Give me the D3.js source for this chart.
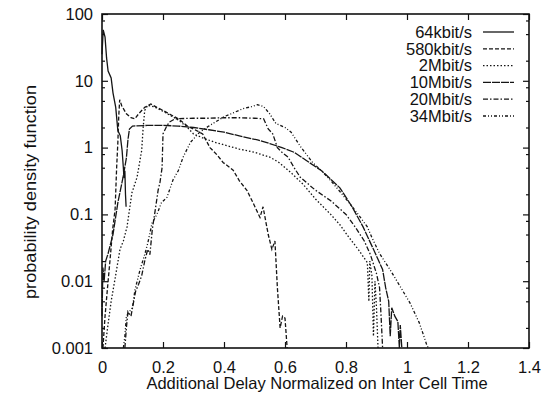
<!DOCTYPE html>
<html>
<head>
<meta charset="utf-8">
<script src="https://cdn.jsdelivr.net/npm/d3@7"></script>
<style>
  body { margin: 0; background: #fff; }
  text { font-family: "Liberation Sans", Arial, sans-serif; fill: #111; }
</style>
</head>
<body>
<svg width="554" height="393"></svg>
<script>
// ---- data ----
var seriesNames = ["64kbit/s", "580kbit/s", "2Mbit/s", "10Mbit/s", "20Mbit/s", "34Mbit/s"];

var s64k = [[0.0,25],[0.004,58],[0.01,45],[0.015,22],[0.02,14],[0.03,11],[0.036,6.6],[0.045,4],[0.052,1.8],[0.06,1.5],[0.066,0.9],[0.07,0.5],[0.072,0.35],[0.075,0.45],[0.077,0.2],[0.079,0.13]];

var s580k = [[0.003,0.001],[0.01,0.003],[0.02,0.01],[0.026,0.02],[0.035,0.06],[0.043,0.12],[0.048,0.5],[0.052,1.2],[0.055,3],[0.058,5.2],[0.065,4.2],[0.08,3.2],[0.095,2.8],[0.108,2.7],[0.12,3.2],[0.14,4.0],[0.16,4.5],[0.18,4.0],[0.2,3.6],[0.22,3.2],[0.25,2.7],[0.28,2.1],[0.31,1.8],[0.33,1.6],[0.354,1.0],[0.377,0.78],[0.397,0.6],[0.43,0.46],[0.45,0.32],[0.475,0.23],[0.495,0.15],[0.518,0.09],[0.528,0.13],[0.545,0.05],[0.557,0.03],[0.567,0.04],[0.575,0.008],[0.584,0.002],[0.592,0.003],[0.6,0.0028],[0.607,0.001]];

var s2M = [[0.01,0.001],[0.02,0.0023],[0.03,0.005],[0.043,0.011],[0.059,0.03],[0.07,0.04],[0.082,0.065],[0.098,0.21],[0.115,0.36],[0.13,0.9],[0.135,2],[0.14,3.6],[0.15,4.3],[0.17,4.1],[0.2,3.5],[0.22,3.1],[0.25,2.6],[0.28,2.0],[0.3,1.6],[0.33,1.4],[0.37,1.2],[0.4,1.1],[0.45,0.95],[0.5,0.85],[0.55,0.72],[0.58,0.6],[0.62,0.42],[0.66,0.28],[0.7,0.17],[0.75,0.1],[0.78,0.07],[0.81,0.045],[0.84,0.03],[0.87,0.019],[0.875,0.005],[0.878,0.02],[0.885,0.012],[0.89,0.0015],[0.895,0.01],[0.9,0.004],[0.905,0.001]];

var s10M = [[0.0,0.003],[0.003,0.016],[0.007,0.01],[0.012,0.02],[0.02,0.026],[0.036,0.05],[0.052,0.15],[0.069,0.36],[0.08,0.7],[0.085,1.3],[0.09,1.9],[0.1,2.1],[0.15,2.15],[0.2,2.15],[0.25,2.1],[0.3,2.0],[0.35,1.85],[0.4,1.7],[0.45,1.5],[0.51,1.3],[0.55,1.15],[0.59,1.0],[0.63,0.85],[0.67,0.64],[0.72,0.45],[0.78,0.25],[0.82,0.13],[0.856,0.065],[0.89,0.03],[0.92,0.015],[0.93,0.008],[0.94,0.005],[0.945,0.0015],[0.95,0.004],[0.96,0.003],[0.97,0.0025],[0.975,0.001],[0.978,0.0022],[0.983,0.001]];

var s20M = [[0.075,0.001],[0.08,0.002],[0.085,0.0035],[0.095,0.003],[0.1,0.004],[0.11,0.007],[0.12,0.009],[0.13,0.012],[0.14,0.02],[0.15,0.03],[0.157,0.025],[0.165,0.06],[0.175,0.12],[0.184,0.23],[0.19,0.3],[0.197,0.5],[0.2,1.6],[0.21,2.0],[0.22,2.4],[0.24,2.7],[0.3,2.75],[0.35,2.75],[0.4,2.8],[0.45,2.8],[0.5,2.75],[0.53,2.7],[0.545,1.9],[0.56,1.6],[0.575,1.0],[0.59,0.85],[0.61,0.72],[0.63,0.5],[0.65,0.36],[0.7,0.23],[0.75,0.16],[0.8,0.1],[0.83,0.065],[0.86,0.04],[0.88,0.025],[0.9,0.013],[0.91,0.008],[0.915,0.003],[0.92,0.001]];

var s34M = [[0.07,0.001],[0.075,0.0015],[0.08,0.003],[0.09,0.0035],[0.1,0.004],[0.108,0.0074],[0.125,0.015],[0.14,0.025],[0.15,0.037],[0.164,0.074],[0.18,0.1],[0.195,0.15],[0.213,0.18],[0.233,0.33],[0.25,0.45],[0.266,0.72],[0.29,1.2],[0.32,1.7],[0.35,2.1],[0.4,2.9],[0.43,3.3],[0.46,3.8],[0.49,4.1],[0.51,4.4],[0.53,4.1],[0.55,3.2],[0.57,2.3],[0.6,2.0],[0.62,1.7],[0.65,1.05],[0.69,0.6],[0.72,0.45],[0.75,0.32],[0.78,0.22],[0.81,0.15],[0.84,0.1],[0.87,0.065],[0.885,0.045],[0.91,0.026],[0.944,0.015],[0.98,0.008],[1.01,0.0047],[1.04,0.0024],[1.06,0.0013],[1.065,0.0011],[1.07,0.001]];

var xTicks = [0, 0.2, 0.4, 0.6, 0.8, 1, 1.2, 1.4];
var yTicks = [0.001, 0.01, 0.1, 1, 10, 100];
var yTickLabels = ["0.001", "0.01", "0.1", "1", "10", "100"];
var yMinorTicks = [0.002,0.005,0.008,0.02,0.05,0.08,0.2,0.5,0.8,2,5,8,20,50,80];

// ---- drawing ----
var allSeries = [s64k, s580k, s2M, s10M, s20M, s34M];
var dashes = ["none", "4,2", "1.5,2", "8,1", "5,2,1.5,2", "3,2,1,2,1,2"];

var svg = d3.select('svg');
var plotL = 102, plotR = 529, plotT = 14, plotB = 348;

var x = d3.scaleLinear().domain([0, 1.4]).range([plotL, plotR]);
var y = d3.scaleLog().domain([0.001, 100]).range([plotB, plotT]);

// axes, ticks pointing inward like gnuplot
svg.append('g').attr('transform', 'translate(0,' + plotB + ')')
  .call(d3.axisBottom(x).tickValues(xTicks).tickSize(-6).tickPadding(13)
    .tickFormat(function(d) { return d3.format('')(d); }));
svg.append('g').attr('transform', 'translate(0,' + plotT + ')')
  .call(d3.axisTop(x).tickValues(xTicks).tickSize(-6).tickFormat(''));

svg.append('g').attr('transform', 'translate(' + plotL + ',0)')
  .call(d3.axisLeft(y).tickValues(yTicks).tickSize(-6).tickPadding(9)
    .tickFormat(function(d, i) { return yTickLabels[i]; }));
svg.append('g').attr('transform', 'translate(' + plotR + ',0)')
  .call(d3.axisRight(y).tickValues(yTicks).tickSize(-6).tickFormat(''));
svg.append('g').attr('transform', 'translate(' + plotL + ',0)')
  .call(d3.axisLeft(y).tickValues(yMinorTicks).tickSize(-3).tickFormat(''));
svg.append('g').attr('transform', 'translate(' + plotR + ',0)')
  .call(d3.axisRight(y).tickValues(yMinorTicks).tickSize(-3).tickFormat(''));

svg.selectAll('.domain').remove();
svg.selectAll('.tick line').attr('stroke', '#111').attr('stroke-width', 1.2);
svg.selectAll('.tick text').attr('font-size', '16.5px').attr('fill', '#111')
  .style('font-family', '"Liberation Sans", Arial, sans-serif');

// frame
svg.append('rect')
  .attr('x', plotL).attr('y', plotT)
  .attr('width', plotR - plotL).attr('height', plotB - plotT)
  .attr('fill', 'none').attr('stroke', '#111').attr('stroke-width', 1.6);

// curves
var line = d3.line()
  .x(function(d) { return x(d[0]); })
  .y(function(d) { return y(d[1]); });

svg.append('g').selectAll('path')
  .data(allSeries)
  .enter().append('path')
  .attr('d', line)
  .attr('fill', 'none')
  .attr('stroke', '#151515')
  .attr('stroke-width', 1.3)
  .attr('stroke-dasharray', function(d, i) { return dashes[i]; });

// legend
var legend = svg.append('g');
seriesNames.forEach(function(name, i) {
  var ly = 32 + i * 16.8;
  legend.append('text')
    .attr('x', 472).attr('y', ly).attr('dy', '0.35em')
    .attr('text-anchor', 'end')
    .attr('font-size', '16.5px')
    .text(name);
  legend.append('line')
    .attr('x1', 483).attr('x2', 514).attr('y1', ly).attr('y2', ly)
    .attr('stroke', '#151515').attr('stroke-width', 1.3)
    .attr('stroke-dasharray', dashes[i]);
});

// axis titles
svg.append('text')
  .attr('x', 317).attr('y', 389)
  .attr('text-anchor', 'middle')
  .attr('font-size', '16.5px')
  .text('Additional Delay Normalized on Inter Cell Time');

svg.append('text')
  .attr('transform', 'translate(36,192) rotate(-90)')
  .attr('text-anchor', 'middle')
  .attr('font-size', '17px')
  .attr('textLength', 214)
  .attr('lengthAdjust', 'spacingAndGlyphs')
  .text('probability density function');
</script>
</body>
</html>
